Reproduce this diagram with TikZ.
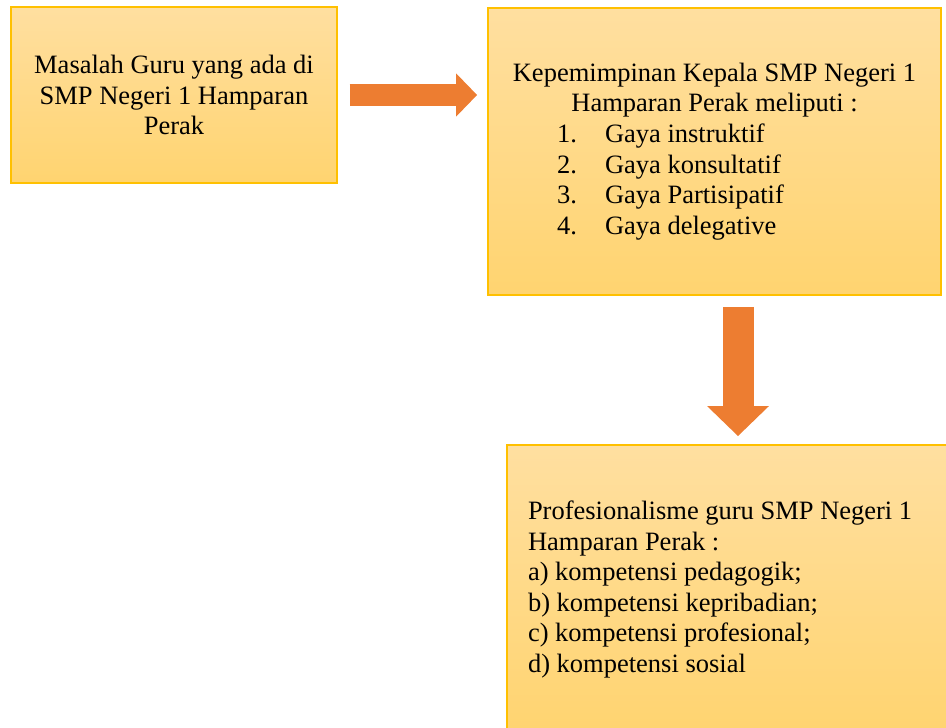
\documentclass[tikz,border=0pt]{standalone}
\usepackage{fontspec}
\setmainfont{Liberation Serif}
\usetikzlibrary{positioning, arrows.meta}

\definecolor{boxtop}{RGB}{255,223,160}
\definecolor{boxbot}{RGB}{255,212,112}
\definecolor{boxline}{RGB}{255,192,0}
\definecolor{arrowfill}{RGB}{237,125,49}

\begin{document}
\begin{tikzpicture}[x=0.5pt, y=-0.5pt,
    font=\fontsize{13.25}{15.3}\selectfont,
    kotak/.style={rectangle, draw=boxline, line width=0.9pt, top color=boxtop, bottom color=boxbot},
    panah/.style={color=arrowfill, line join=miter}]
            \useasboundingbox (0,0) rectangle (946,727);
            \clip (0,0) rectangle (946,727);

            \node[kotak, minimum width=163pt, minimum height=88pt, align=center] (masalah) at (174,95)
              {Masalah Guru yang ada di\\SMP Negeri 1 Hamparan\\Perak};
            \node[kotak, minimum width=226.5pt, minimum height=143.5pt, align=center] (pimpinan) at (714.5,151.5)
              {Kepemimpinan Kepala SMP Negeri 1\\Hamparan Perak meliputi :\\
               \makebox[157.5pt][l]{\makebox[24pt][l]{1.}Gaya instruktif}\\
               \makebox[157.5pt][l]{\makebox[24pt][l]{2.}Gaya konsultatif}\\
               \makebox[157.5pt][l]{\makebox[24pt][l]{3.}Gaya Partisipatif}\\
               \makebox[157.5pt][l]{\makebox[24pt][l]{4.}Gaya delegative}};
            \node[kotak, minimum width=222.5pt, minimum height=144.5pt, text width=201.5pt,
                  inner xsep=10.5pt, align=flush left] (profesi) at (729.5,589.5)
              {Profesionalisme guru SMP Negeri 1\\Hamparan Perak :\\a) kompetensi pedagogik;\\
               b) kompetensi kepribadian;\\c) kompetensi profesional;\\d) kompetensi sosial};
            \coordinate (turun) at (738,0);

            \path[panah]
              (masalah.east) edge [line width=11pt, shorten <=5.8pt, shorten >=5pt,
                -{Triangle[width=21pt, length=10.5pt]}] (masalah.east -| pimpinan.west)
              (pimpinan.south -| turun) edge [line width=15.5pt, shorten <=5.5pt, shorten >=4pt,
                -{Triangle[width=30pt, length=15pt]}] (profesi.north -| turun)
            ;
          \end{tikzpicture}
\end{document}
